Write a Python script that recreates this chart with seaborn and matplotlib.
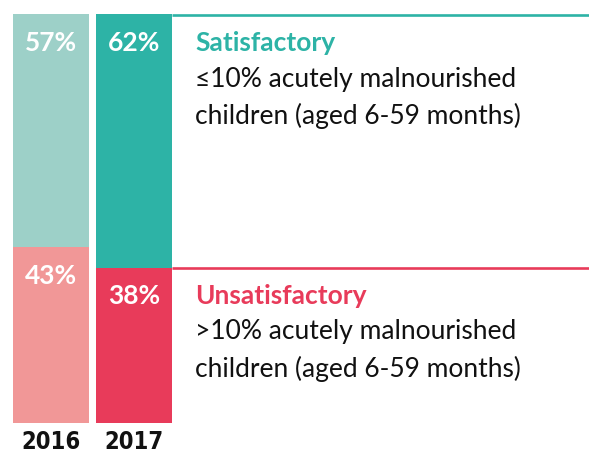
import matplotlib
matplotlib.use("Agg")
import matplotlib.pyplot as plt
from matplotlib import font_manager
import seaborn as sns
import pandas as pd

years = ["2016", "2017"]
satisfactory = [57, 62]
unsatisfactory = [43, 38]
sat_colors = ["#9dd0c8", "#2db3a6"]
unsat_colors = ["#f19797", "#e83b5a"]
sat_title = "Satisfactory"
sat_desc = "≤10% acutely malnourished\nchildren (aged 6-59 months)"
unsat_title = "Unsatisfactory"
unsat_desc = ">10% acutely malnourished\nchildren (aged 6-59 months)"

# pick a condensed bold face for the year labels if one is installed
narrow = [f for f in font_manager.fontManager.ttflist
          if ("narrow" in f.fname.lower() or "condensed" in f.fname.lower())
          and f.weight in ("bold", 700, "heavy", 800, 900)]
if narrow:
    year_font = dict(fontproperties=font_manager.FontProperties(fname=narrow[0].fname, size=17))
else:
    year_font = dict(family="Lato", fontweight="heavy", fontsize=15.5)

W, H = 589, 453
fig = plt.figure(figsize=(W / 100, H / 100), dpi=100)
ax = fig.add_axes([0, 0, 1, 1])

df = pd.DataFrame({"year": years, "sat": satisfactory, "unsat": unsatisfactory})
df["total"] = df["sat"] + df["unsat"]

bw = 76 / 83
sns.barplot(data=df, x="year", y="total", hue="year", palette=sat_colors,
            width=bw, saturation=1, legend=False, ax=ax, dodge=False)
sns.barplot(data=df, x="year", y="unsat", hue="year", palette=unsat_colors,
            width=bw, saturation=1, legend=False, ax=ax, dodge=False)

px_per_x = 83.0
x0_px = 51.0
top_px, bot_px = 14.0, 423.0
ypp = 100.0 / (bot_px - top_px)
ax.set_xlim(-x0_px / px_per_x, (W - x0_px) / px_per_x)
ax.set_ylim(-(H - bot_px) * ypp, 100 + top_px * ypp)
ax.axis("off")

x_start = 1 + bw / 2
x_end = (W - x0_px) / px_per_x
ax.plot([x_start, x_end], [df["total"][1] - 0.3, df["total"][1] - 0.3],
        color=sat_colors[1], lw=1.9, solid_capstyle="butt", clip_on=False)
ax.plot([x_start, x_end], [df["unsat"][1], df["unsat"][1]],
        color=unsat_colors[1], lw=1.9, solid_capstyle="butt", clip_on=False)

for i in range(len(years)):
    ax.text(i, df["total"][i] - 7, f"{satisfactory[i]}%", ha="center", va="center",
            color="white", fontsize=19, fontweight="bold", family="Lato")
    ax.text(i, df["unsat"][i] - 7, f"{unsatisfactory[i]}%", ha="center", va="center",
            color="white", fontsize=19, fontweight="bold", family="Lato")
    ax.text(i, -(442 - bot_px) * ypp, years[i], ha="center", va="center",
            color="#111111", **year_font)

def fy(py):
    return 1 - py / H

tx = 195 / W
fs = 19
fig.text(tx, fy(43), sat_title, color=sat_colors[1], fontsize=fs, fontweight="bold",
         family="Lato", va="center", ha="left")
fig.text(tx, fy(79), sat_desc.split("\n")[0], color="#111111", fontsize=fs,
         family=["Lato", "DejaVu Sans"], va="center", ha="left")
fig.text(tx, fy(116), sat_desc.split("\n")[1], color="#111111", fontsize=fs,
         family="Lato", va="center", ha="left")

fig.text(tx, fy(296), unsat_title, color=unsat_colors[1], fontsize=fs, fontweight="bold",
         family="Lato", va="center", ha="left")
fig.text(tx, fy(332), unsat_desc.split("\n")[0], color="#111111", fontsize=fs,
         family="Lato", va="center", ha="left")
fig.text(tx, fy(369), unsat_desc.split("\n")[1], color="#111111", fontsize=fs,
         family="Lato", va="center", ha="left")

fig.savefig("out.png", dpi=100)
